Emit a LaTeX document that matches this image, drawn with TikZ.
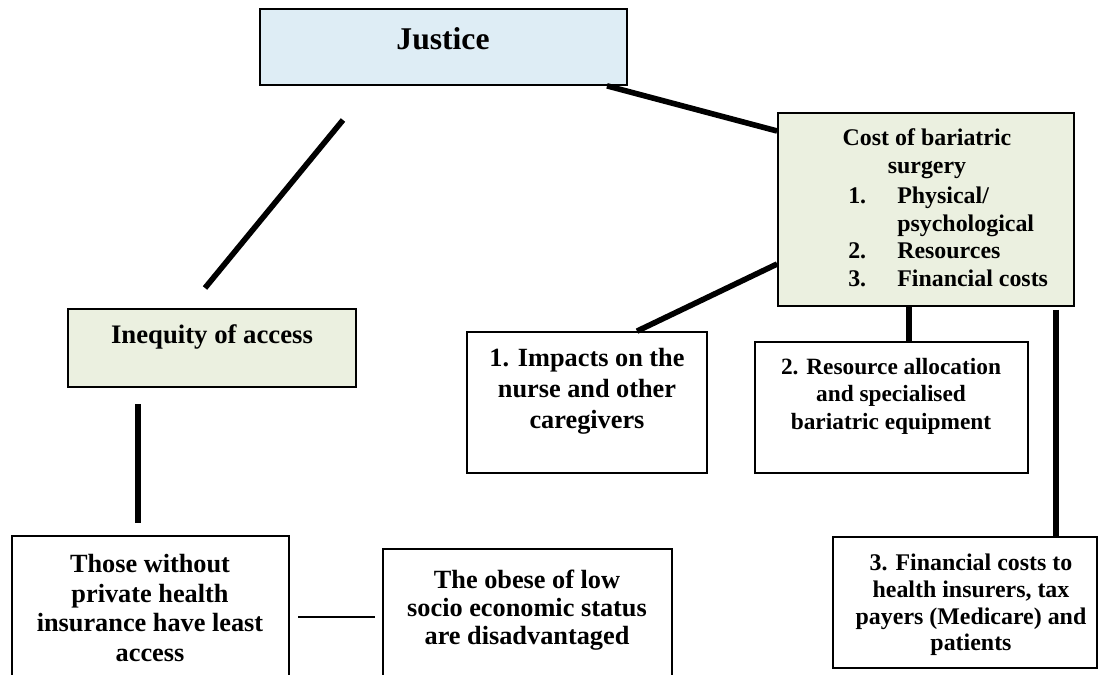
\documentclass[tikz,border=0pt]{standalone}
\usepackage{fontspec}
\setmainfont{Liberation Serif}
\definecolor{justiceBlue}{RGB}{222,237,245}
\definecolor{accessGreen}{RGB}{235,240,224}

\begin{document}
\begin{tikzpicture}[x = 0.025cm, y = -0.025cm, font=\bfseries]
	\tikzstyle{boxStyle} = [shape = rectangle, draw, line width = 1.2pt, inner sep = 0pt]
	\tikzstyle{textStyle} = [align = center, inner sep = 0pt]
	\tikzstyle{thickEdge} = [line width = 4pt]
	\tikzstyle{thinEdge} = [line width = 1.3pt]
	\useasboundingbox (0,0) rectangle (1099,675);
	\clip (0,0) rectangle (1099,675);
	\node[boxStyle, fill = justiceBlue, minimum width = 9.175cm, minimum height = 1.9cm] (v0) at (443.5,47) {};
	\node[boxStyle, fill = accessGreen, minimum width = 7.2cm, minimum height = 1.95cm] (v1) at (212,348) {};
	\node[boxStyle, minimum width = 6.925cm, minimum height = 4.1cm] (v2) at (150.5,618) {};
	\node[boxStyle, minimum width = 7.225cm, minimum height = 3.775cm] (v3) at (527.5,624.5) {};
	\node[boxStyle, fill = accessGreen, minimum width = 7.4cm, minimum height = 4.825cm] (v4) at (926,209.5) {};
	\node[boxStyle, minimum width = 6cm, minimum height = 3.525cm] (v5) at (587,402.5) {};
	\node[boxStyle, minimum width = 6.825cm, minimum height = 3.275cm] (v6) at (891.5,407.5) {};
	\node[boxStyle, minimum width = 6.6cm, minimum height = 3.275cm] (v7) at (965,602.5) {};
	\node[textStyle, font = \fontsize{22.5}{26}\selectfont\bfseries] (t0) at (443,39) {Justice};
	\node[textStyle, font = \fontsize{19}{22}\selectfont\bfseries] (t1) at (212,337) {Inequity of access};
	\node[textStyle, font = \fontsize{18.7}{21.2}\selectfont\bfseries] (t2) at (150,608) {Those without\\private health\\insurance have least\\access};
	\node[textStyle, font = \fontsize{18.7}{19.8}\selectfont\bfseries] (t3) at (527,610) {The obese of low\\socio economic status\\are disadvantaged};
	\node[textStyle, font = \fontsize{17}{19.6}\selectfont\bfseries] (t4) at (927,153.5) {Cost of bariatric\\surgery};
	\node[textStyle, align = left, anchor = west, font = \fontsize{17}{19.6}\selectfont\bfseries] (t5) at (848,237) {\makebox[1.225cm][l]{1.}Physical/\\\hspace*{1.225cm}psychological\\\makebox[1.225cm][l]{2.}Resources\\\makebox[1.225cm][l]{3.}Financial costs};
	\node[textStyle, font = \fontsize{18.7}{21.9}\selectfont\bfseries] (t6) at (587,391) {1. Impacts on the\\nurse and other\\caregivers};
	\node[textStyle, font = \fontsize{16.6}{19.5}\selectfont\bfseries] (t7) at (891,396) {2. Resource allocation\\and specialised\\bariatric equipment};
	\node[textStyle, font = \fontsize{17}{18.9}\selectfont\bfseries] (t8) at (971,605) {3. Financial costs to\\health insurers, tax\\payers (Medicare) and\\patients};
	\coordinate (c0) at (343,120);
	\coordinate (c1) at (205,288);
	\coordinate (c2) at (138,404);
	\coordinate (c3) at (138,523);
	\coordinate (c4) at (1056,310);
	\coordinate (c5) at (298,617);
	\coordinate (c6) at (375,617);
	\draw[thickEdge] (607,0 |- v0.south) -- (v4.west |- 0,131);
	\draw[thickEdge] (c0) -- (c1);
	\draw[thickEdge] (v4.west |- 0,264) -- (637,0 |- v5.north);
	\draw[thickEdge] (909,0 |- v4.south) -- (909,0 |- v6.north);
	\draw[thickEdge] (c4) -- (1056,0 |- v7.north);
	\draw[thickEdge] (c2) -- (c3);
	\draw[thinEdge] (c5) -- (c6);
\end{tikzpicture}
\end{document}
